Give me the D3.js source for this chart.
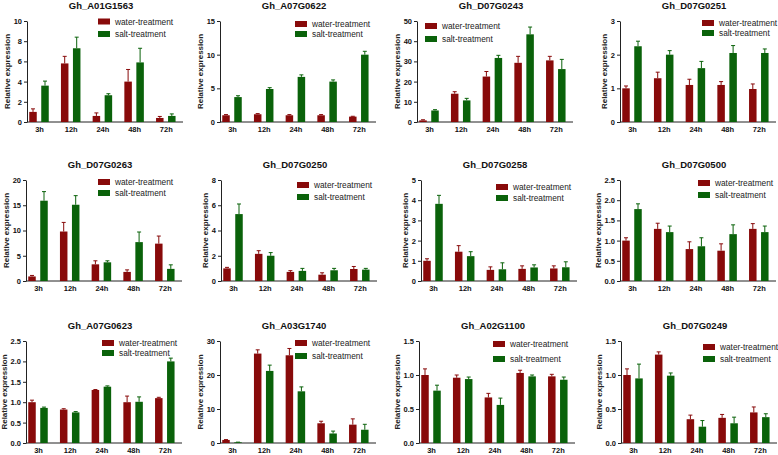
<!DOCTYPE html>
<html lang="en">
<head>
<meta charset="UTF-8">
<title>Relative expression</title>
<script src="https://d3js.org/d3.v7.min.js"></script>
<style>
  body { margin: 0; background: #fff; }
  svg { display: block; font-family: "Liberation Sans", Arial, sans-serif; }
  .axis path, .axis line { stroke: #222; }
  .axis text { font-size: 7.5px; font-weight: bold; fill: #111; }
</style>
</head>
<body>
<svg width="778" height="455"></svg>
<script>
// data
const categories = ["3h", "12h", "24h", "48h", "72h"];
const seriesNames = ["water-treatment", "salt-treatment"];
const genes = ["Gh_A01G1563", "Gh_A07G0622", "Gh_D07G0243", "Gh_D07G0251",
               "Gh_D07G0263", "Gh_D07G0250", "Gh_D07G0258", "Gh_D07G0500",
               "Gh_A07G0623", "Gh_A03G1740", "Gh_A02G1100", "Gh_D07G0249"];
const yMax  = [10, 15, 50, 3, 20, 8, 5, 2.5, 2.5, 30, 1.5, 1.5];
const yStep = [2, 5, 10, 1, 5, 2, 1, 0.5, 0.5, 10, 0.5, 0.5];

const waterMean = [
  [1.0, 5.8, 0.6, 4.0, 0.4],
  [1.0, 1.15, 1.0, 1.0, 0.8],
  [0.8, 14, 22.5, 29.3, 30.5],
  [1.0, 1.3, 1.1, 1.1, 0.98],
  [0.9, 9.8, 3.3, 1.8, 7.4],
  [1.0, 2.15, 0.72, 0.5, 0.95],
  [1.0, 1.45, 0.55, 0.6, 0.62],
  [1.0, 1.29, 0.79, 0.75, 1.29],
  [1.0, 0.82, 1.3, 1.0, 1.1],
  [0.9, 26.3, 25.8, 5.8, 5.4],
  [1.0, 0.96, 0.67, 1.03, 0.98],
  [1.0, 1.3, 0.35, 0.37, 0.45]
];
const waterErr = [
  [0.3, 0.7, 0.3, 1.2, 0.15],
  [0.1, 0.1, 0.1, 0.1, 0.05],
  [0.3, 1.0, 2.5, 3.2, 2.0],
  [0.07, 0.18, 0.17, 0.1, 0.15],
  [0.2, 1.8, 0.7, 0.4, 1.5],
  [0.08, 0.25, 0.1, 0.15, 0.2],
  [0.1, 0.3, 0.15, 0.15, 0.13],
  [0.07, 0.14, 0.18, 0.17, 0.13],
  [0.05, 0.02, 0.01, 0.15, 0.02],
  [0.1, 1.1, 2.0, 0.6, 1.7],
  [0.09, 0.04, 0.06, 0.04, 0.03],
  [0.09, 0.04, 0.06, 0.05, 0.08]
];
const saltMean = [
  [3.6, 7.3, 2.65, 5.9, 0.6],
  [3.7, 4.9, 6.7, 6.0, 10.0],
  [5.7, 10.7, 31.7, 43.4, 26.2],
  [2.25, 2.0, 1.6, 2.05, 2.05],
  [15.9, 15.1, 3.7, 7.7, 2.4],
  [5.3, 2.0, 0.8, 0.85, 0.9],
  [3.82, 1.23, 0.58, 0.67, 0.68],
  [1.78, 1.21, 0.86, 1.16, 1.21],
  [0.86, 0.75, 1.38, 1.01, 2.0],
  [0.2, 21.2, 15.2, 2.8, 3.9],
  [0.77, 0.94, 0.56, 0.98, 0.93],
  [0.95, 0.99, 0.24, 0.29, 0.38]
];
const saltErr = [
  [0.45, 1.1, 0.15, 1.4, 0.2],
  [0.2, 0.2, 0.3, 0.25, 0.5],
  [0.4, 1.0, 1.3, 3.6, 4.8],
  [0.15, 0.12, 0.2, 0.22, 0.12],
  [1.8, 1.8, 0.3, 2.0, 0.8],
  [0.8, 0.25, 0.2, 0.15, 0.1],
  [0.42, 0.22, 0.32, 0.13, 0.27],
  [0.13, 0.15, 0.21, 0.23, 0.15],
  [0.02, 0.02, 0.02, 0.12, 0.08],
  [0.05, 1.7, 1.3, 0.7, 1.6],
  [0.08, 0.03, 0.1, 0.02, 0.04],
  [0.21, 0.04, 0.09, 0.09, 0.05]
];

// layout
const axisLeft = [27, 220, 417, 620, 26, 221, 421, 620, 26, 220, 419, 621];
const rowTop = [21, 180, 341];
const rowBottom = [122, 281, 443];
const legendX = [98, 295, 425, 702, 98, 297, 496, 698, 102, 295, 493, 703];
const legendY = [21.5, 24, 26, 23, 182, 185, 187, 183, 343, 343, 344, 347];
const legendGap = [12.5, 10, 13, 10, 11, 12, 11, 12, 10, 13, 15, 12];
const colors = ["#880a0a", "#0a620a"];
const barW = 7.5, halfGap = 2.25, step = 31.7, firstOff = 12, axisLen = 156;

const svg = d3.select("svg");

genes.forEach(function(g, i) {
  const row = Math.floor(i / 4);
  const ax = axisLeft[i];
  const top = rowTop[row], bot = rowBottom[row];
  const panel = svg.append("g");

  const x = d3.scalePoint().domain(categories)
      .range([ax + firstOff, ax + firstOff + step * (categories.length - 1)]);
  const y = d3.scaleLinear().domain([0, yMax[i]]).range([bot, top]);
  const ticks = d3.range(0, yMax[i] + yStep[i] / 2, yStep[i]);
  const fmt = yStep[i] < 1 ? d3.format(".1f") : d3.format("d");

  // y axis
  const yg = panel.append("g").attr("class", "axis")
      .attr("transform", "translate(" + ax + ",0)")
      .call(d3.axisLeft(y).tickValues(ticks).tickFormat(fmt).tickSize(3).tickPadding(2).tickSizeOuter(0));

  // x axis
  panel.append("line")
      .attr("x1", ax).attr("x2", ax + axisLen)
      .attr("y1", bot).attr("y2", bot)
      .attr("stroke", "#222");
  panel.append("g").attr("class", "axis")
      .attr("transform", "translate(0," + bot + ")")
      .call(d3.axisBottom(x).tickSize(0).tickPadding(5))
      .select(".domain").remove();

  // bars
  const series = [
    {mean: waterMean[i], err: waterErr[i], dx: -halfGap - barW},
    {mean: saltMean[i], err: saltErr[i], dx: halfGap}
  ];
  series.forEach(function(s, k) {
    const gs = panel.append("g");
    categories.forEach(function(c, j) {
      const bx = x(c) + s.dx;
      const cx = bx + barW / 2;
      const yt = y(s.mean[j] + s.err[j]);
      gs.append("line").attr("x1", cx).attr("x2", cx)
        .attr("y1", y(s.mean[j])).attr("y2", yt)
        .attr("stroke", colors[k]).attr("stroke-width", 1);
      gs.append("line").attr("x1", cx - 2).attr("x2", cx + 2)
        .attr("y1", yt).attr("y2", yt)
        .attr("stroke", colors[k]).attr("stroke-width", 1);
      gs.append("rect").attr("x", bx).attr("width", barW)
        .attr("y", y(s.mean[j])).attr("height", bot - y(s.mean[j]))
        .attr("fill", colors[k]);
    });
  });

  // y label
  const bb = yg.node().getBBox();
  panel.append("text")
      .attr("transform", "translate(" + (ax + bb.x - 4) + "," + ((top + bot) / 2) + ") rotate(-90)")
      .attr("text-anchor", "middle")
      .style("font-size", "8px").style("font-weight", "bold").style("fill", "#222")
      .text("Relative expression");

  // title
  panel.append("text")
      .attr("x", ax + 74).attr("y", top - 12)
      .attr("text-anchor", "middle")
      .style("font-size", "9.5px").style("font-weight", "bold").style("fill", "#111")
      .text(g);

  // legend
  seriesNames.forEach(function(n, k) {
    const ly = legendY[i] + k * legendGap[i];
    panel.append("rect").attr("x", legendX[i]).attr("y", ly - 3)
      .attr("width", 12).attr("height", 6).attr("fill", colors[k]);
    panel.append("text").attr("x", legendX[i] + 17).attr("y", ly + 3)
      .style("font-size", "8.3px").style("fill", "#222")
      .text(n);
  });
});
</script>
</body>
</html>
